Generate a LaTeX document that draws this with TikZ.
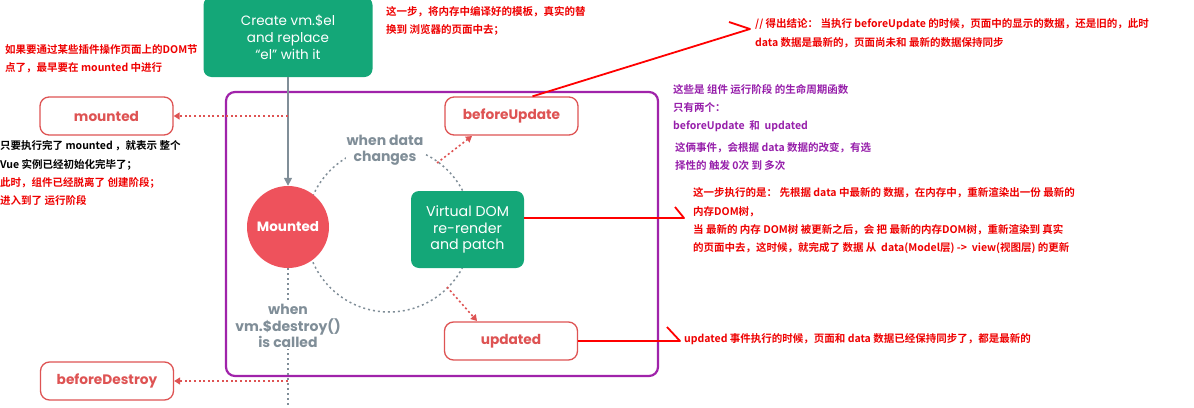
\documentclass[tikz,border=0pt]{standalone}
\usepackage{fontspec}
\usetikzlibrary{arrows.meta}
\newfontfamily\cjk{Noto Sans CJK SC}[BoldFont={* Bold}]
\newfontfamily\pop{Poppins}
\definecolor{vgreen}{RGB}{20,167,120}
\definecolor{hookred}{RGB}{222,83,83}
\definecolor{mountfill}{RGB}{238,82,92}
\definecolor{slate}{RGB}{128,142,152}
\definecolor{framepurple}{RGB}{160,35,170}
\definecolor{notepurple}{RGB}{150,30,170}
\definecolor{notered}{RGB}{238,0,0}
\begin{document}
\begin{tikzpicture}[x=1pt,y=-1pt,
  hookbox/.style={draw=hookred, line width=1.3pt, rounded corners=9pt, fill=white,
    minimum width=133pt, minimum height=38pt, inner sep=0pt, text=hookred,
    font=\pop\bfseries\fontsize{13.7}{15}\selectfont},
  greenbox/.style={fill=vgreen, rounded corners=8pt, text=white, align=center, inner sep=0pt,
    font=\pop\fontsize{13.5}{17}\selectfont},
  graylabel/.style={fill=white, text=slate, align=center, inner sep=1pt,
    font=\pop\bfseries\fontsize{14}{16.5}\selectfont},
  graydot/.style={draw=slate, line width=1.5pt, dash pattern=on 2pt off 3pt},
  reddot/.style={draw=hookred, line width=1.6pt, dash pattern=on 2pt off 2.6pt,
    -{Triangle[length=6pt,width=7pt]}},
  redline/.style={draw=red, line width=1.8pt, line join=round},
  note/.style={anchor=base west, inner sep=0pt, font=\cjk\bfseries\fontsize{10.5}{18}\selectfont},
  frame/.style={draw=framepurple, line width=2.2pt, rounded corners=9pt, inner sep=0pt}
]
\useasboundingbox (0,0) rectangle (1194,407);

% purple frame
\node[frame, minimum width=432pt, minimum height=284pt] (frame) at (442,234) {};

% dotted update cycle
\node[draw=none, circle, minimum size=166pt, inner sep=0pt] (cycle) at (389,229) {};
\draw[graydot] (cycle.center) circle[radius=83pt];

% nodes
\node[greenbox, minimum width=169pt, minimum height=80pt] (create) at (288,37) {Create vm.\$el\\and replace\\“el” with it};
\node[circle, fill=mountfill, minimum size=82pt, inner sep=0pt, text=white,
  font=\pop\bfseries\fontsize{13.5}{15}\selectfont] (mounted) at (288,227) {Mounted};
\node[greenbox, minimum width=113pt, minimum height=77pt,
  font=\pop\fontsize{14.2}{16.5}\selectfont] (vdom) at (467.5,229.5) {Virtual DOM\\re-render\\and patch};

\node[hookbox] (mhook) at (106.5,116) {mounted};
\node[hookbox] (bu) at (511.5,116) {beforeUpdate};
\node[hookbox] (upd) at (511,341) {updated};
\node[hookbox] (bd) at (107,381) {beforeDestroy};

\node[graylabel] (wdc) at (385,150) {when data\\changes};

% destroy line
\coordinate (dbot) at (288,410);
\draw[graydot] (mounted.south) -- (dbot);
\node[graylabel] (wdes) at (288,326) {when\\vm.\$destroy()\\is called};

% main arrow
\draw[draw=slate, line width=1.5pt, -{Triangle[length=8pt,width=8pt]}] (create.south) -- (mounted.north);

% hook arrows
\coordinate (mfork) at (288,116);
\coordinate (dfork) at (288,381);
\draw[reddot] (mfork) -- (mhook.east);
\draw[reddot] (dfork) -- (bd.east);
\coordinate (bustart) at (437,163);
\coordinate (buend) at (472,136);
\draw[reddot] (bustart) -- (buend);
\coordinate (upstart) at (447,287);
\coordinate (upend) at (477,321);
\draw[reddot] (upstart) -- (upend);

% red annotation arrows
\coordinate (t1) at (750,29);
\coordinate (b1) at (729,22);
\draw[redline] ([xshift=21pt]bu.north) -- (t1) -- (b1);
\coordinate (t2) at (684,218);
\coordinate (b2) at (675,207);
\draw[redline] (vdom.east |- t2) -- (t2) -- (b2);
\coordinate (t3) at (680,341);
\coordinate (b3) at (667,327);
\draw[redline] (upd.east) -- (t3) -- (b3);

% left notes
\node[note, text=notered] (l1) at (5,53) {如果要通过某些插件操作页面上的DOM节};
\node[note, text=notered] (l2) at (5,71) {点了，最早要在 mounted 中进行};
\node[note, text=black] (l3) at (0,149) {只要执行完了 mounted ，就表示 整个};
\node[note, text=black] (l4) at (0,168) {Vue 实例已经初始化完毕了；};
\node[note, text=notered] (l5) at (0,186) {此时，组件已经脱离了 创建阶段；};
\node[note, text=notered] (l6) at (0,204) {进入到了 运行阶段};

% top middle note
\node[note, text=notered] (m1) at (386,15) {这一步，将内存中编译好的模板，真实的替};
\node[note, text=notered] (m2) at (386,33) {换到 浏览器的页面中去；};

% top right note
\node[note, text=notered] (r1) at (755,27) {// 得出结论： 当执行 beforeUpdate 的时候，页面中的显示的数据，还是旧的，此时};
\node[note, text=notered] (r2) at (755,46) {data 数据是最新的，页面尚未和 最新的数据保持同步};

% purple notes
\node[note, text=notepurple] (p1) at (673,93) {这些是 组件 运行阶段 的生命周期函数};
\node[note, text=notepurple] (p2) at (673,111) {只有两个：};
\node[note, text=notepurple] (p3) at (673,129) {beforeUpdate \ 和 \ updated};
\node[note, text=notepurple] (p4) at (675,151) {这俩事件，会根据 data 数据的改变，有选};
\node[note, text=notepurple] (p5) at (675,169) {择性的 触发 0次 到 多次};

% vdom note
\node[note, text=notered] (v1) at (693,196) {这一步执行的是： 先根据 data 中最新的 数据，在内存中，重新渲染出一份 最新的};
\node[note, text=notered] (v2) at (693,215) {内存DOM树，};
\node[note, text=notered] (v3) at (693,233) {当 最新的 内存 DOM树 被更新之后，会 把 最新的内存DOM树，重新渲染到 真实};
\node[note, text=notered] (v4) at (693,251) {的页面中去，这时候，就完成了 数据 从 \ data(Model层) -> \ view(视图层) 的更新};

% updated note
\node[note, text=notered] (u1) at (684,342) {updated 事件执行的时候，页面和 data 数据已经保持同步了，都是最新的};
\end{tikzpicture}
\end{document}
